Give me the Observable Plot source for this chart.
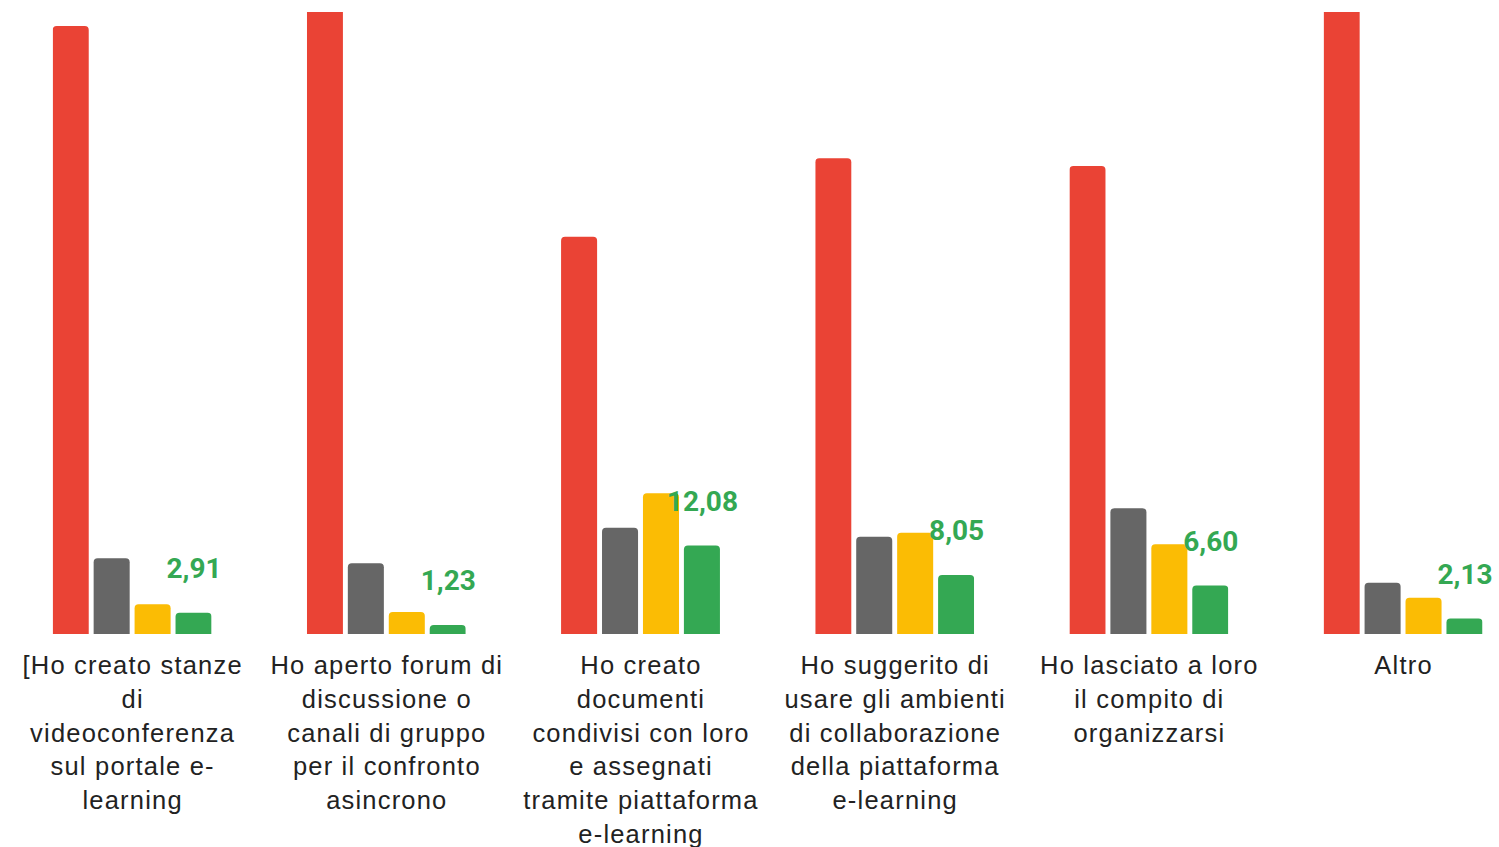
<!DOCTYPE html>
<html>
<head>
<meta charset="utf-8">
<script src="https://cdn.jsdelivr.net/npm/d3@7"></script>
<script src="https://cdn.jsdelivr.net/npm/@observablehq/plot@0.6"></script>
<style>
  html, body { margin: 0; padding: 0; background: #fff; }
  #chart { width: 1499px; height: 847px; overflow: hidden; }
</style>
</head>
<body>
<div id="chart"></div>
<script>
// Categories (x-axis labels, line breaks as in the reference)
const categories = [
  "[Ho creato stanze\ndi\nvideoconferenza\nsul portale e-\nlearning",
  "Ho aperto forum di\ndiscussione o\ncanali di gruppo\nper il confronto\nasincrono",
  "Ho creato\ndocumenti\ncondivisi con loro\ne assegnati\ntramite piattaforma\ne-learning",
  "Ho suggerito di\nusare gli ambienti\ndi collaborazione\ndella piattaforma\ne-learning",
  "Ho lasciato a loro\nil compito di\norganizzarsi",
  "Altro"
];
const series = ["s1", "s2", "s3", "s4"];
const seriesColors = ["#ea4335", "#666666", "#fbbc04", "#34a853"];

// Series values (percent)
const redValues    = [82.95, 86.12, 54.2, 64.9, 63.85, 85.92];
const grayValues   = [10.33, 9.65, 14.5, 13.27, 17.15, 7.0];
const yellowValues = [4.05, 3.0, 19.2, 13.82, 12.24, 4.95];
const greenValues  = [2.91, 1.23, 12.08, 8.05, 6.60, 2.13];

const allSeries = [redValues, grayValues, yellowValues, greenValues];
const rows = [];
categories.forEach((c, i) => {
  allSeries.forEach((vals, j) => rows.push({cat: c, series: series[j], value: vals[i]}));
});
const greenRows = categories.map((c, i) => ({cat: c, series: series[3], value: greenValues[i]}));
const fmt = v => d3.format(".2f")(v).replace(".", ",");

const chart = Plot.plot({
  width: 1499,
  height: 847,
  marginTop: 12,
  marginBottom: 213,
  marginLeft: 52.7,
  marginRight: 16.5,
  style: {background: "#fff"},
  fx: {domain: categories, paddingInner: 0.375, paddingOuter: 0, round: false, axis: null, label: null},
  x: {domain: series, paddingInner: 0.12, paddingOuter: 0, round: false, axis: null, label: null},
  y: {domain: [0, 84.86], axis: null},
  color: {domain: series, range: seriesColors},
  marks: [
    Plot.barY(rows, {
      fx: "cat", x: "series", y1: -1, y2: "value",
      fill: "series", rx: 4, clip: true
    }),
    Plot.text(greenRows, {
      fx: "cat", x: "series", y: "value",
      text: d => fmt(d.value),
      dy: -35, lineAnchor: "bottom",
      fill: "#34a853", fontSize: 28, fontWeight: "bold",
      fontFamily: "Roboto"
    }),
    Plot.text(categories, {
      fx: d => d, text: d => d,
      frameAnchor: "bottom", dy: 16, lineAnchor: "top",
      lineHeight: 1.32, fontSize: 25.5, fill: "#222",
      fontFamily: "Liberation Sans, Arial, sans-serif"
    })
  ]
});
chart.querySelectorAll("g[aria-label='text']").forEach((g, i) => {
  if (i === 1) g.setAttribute("letter-spacing", "1.2px");
});
document.getElementById("chart").appendChild(chart);
</script>
</body>
</html>
